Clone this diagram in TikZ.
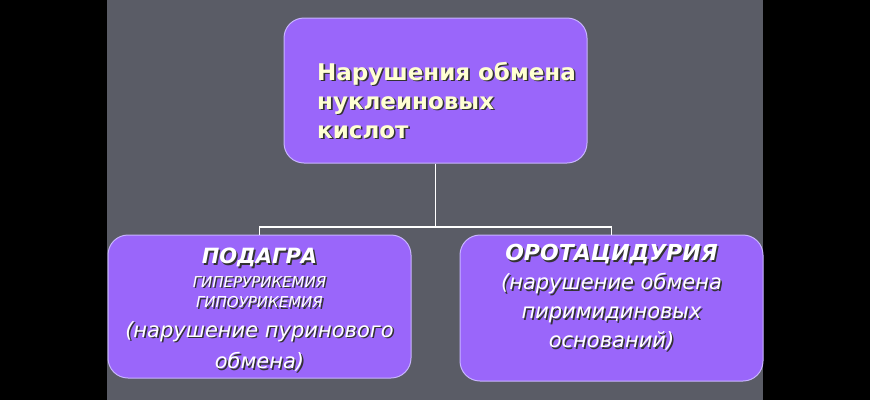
\documentclass[tikz,border=0pt]{standalone}
\usepackage{fontspec}
\setmainfont{DejaVu Sans}
\definecolor{slide}{HTML}{5A5C66}
\definecolor{boxfill}{HTML}{9A66FA}
\definecolor{boxrim}{HTML}{C8B4FF}
\definecolor{titletext}{HTML}{FFFFD2}
\newcommand\shd[1]{\makebox[0pt][l]{\raisebox{-1.6pt}[0pt][0pt]{\hspace{1.6pt}\textcolor{black!80}{#1}}}#1}
\newcommand\tshd[1]{\hspace*{22pt}\shd{#1}}
\begin{document}
\begin{tikzpicture}[x=1pt,y=-1pt]
		\tikzstyle{all} = [draw=boxrim, line width=1pt, fill=boxfill]
		\tikzstyle{block} = [rectangle, all, rounded corners=20pt, minimum width=303pt, inner sep=0pt]
		\tikzstyle{wire} = [draw=white, line width=1.3pt]
		% slide background
		\fill[black] (0,0) rectangle (870,400);
		\fill[slide] (107,0) rectangle (763,400);
		\node[block, minimum height=145pt, align=left, text=titletext,
			font=\bfseries\fontsize{23}{29}\selectfont] (nuk) at (435.5,90.5) {
			\rule{0pt}{38pt}\tshd{Нарушения обмена}\\
			\tshd{нуклеиновых}\\
			\tshd{кислот}
		};
		\node[block, minimum height=143pt, align=center, text=white,
			font=\itshape\fontsize{21}{29.5}\selectfont] (pod) at (259.5,306.5) {
			\rule{0pt}{22pt}\shd{\bfseries ПОДАГРА}\\[-6pt]
			{\fontsize{15}{20}\selectfont\shd{ГИПЕРУРИКЕМИЯ}}\\[-9pt]
			{\fontsize{15}{20}\selectfont\shd{ГИПОУРИКЕМИЯ}}\\
			\shd{(нарушение пуринового}\\[2pt]
			\shd{обмена)}
		};
		\node[block, minimum height=146pt, align=center, text=white,
			font=\itshape\fontsize{21}{29}\selectfont] (oro) at (611.5,308) {
			{\fontsize{22}{29}\selectfont\shd{\bfseries ОРОТАЦИДУРИЯ}}\\
			\shd{(нарушение обмена}\\
			\shd{пиримидиновых}\\
			\shd{оснований)}\rule[-24pt]{0pt}{0pt}
		};
		% tree lines
		\coordinate (fork) at (435.5,227);
		\draw[wire] (nuk.south) -- (fork) -| (pod.north);
		\draw[wire] (fork) -| (oro.north);
\end{tikzpicture}
\end{document}
